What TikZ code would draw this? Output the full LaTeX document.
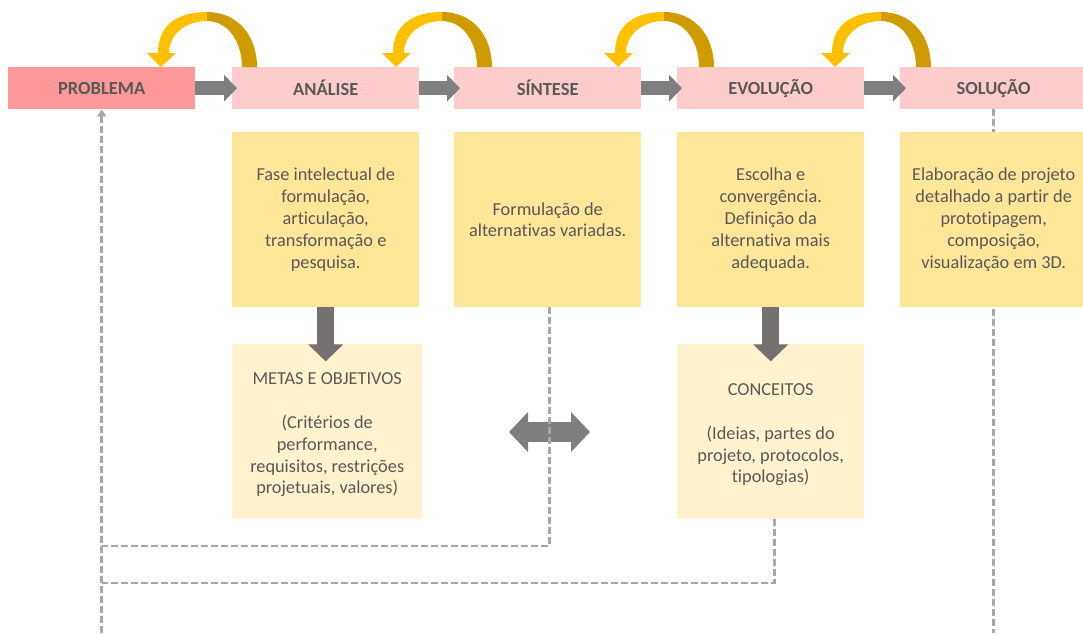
\documentclass[tikz,border=0pt]{standalone}
\usepackage{fontspec}
\setmainfont{Carlito}[Ligatures=NoCommon]
\usetikzlibrary{arrows.meta,calc,backgrounds}

\definecolor{probfill}{HTML}{FF9999}
\definecolor{headfill}{HTML}{FFCCCC}
\definecolor{phasefill}{HTML}{FFE699}
\definecolor{notefill}{HTML}{FFF2CC}
\definecolor{txt}{HTML}{595959}
\definecolor{flowgray}{HTML}{7F7F7F}
\definecolor{downgray}{HTML}{767171}
\definecolor{linkgray}{HTML}{AAA6A6}
\definecolor{loopgold}{HTML}{FFC000}
\definecolor{loopdark}{HTML}{CF9C00}

% taller first line, lowering the centred block a little
\newcommand\topgap{\rule{0pt}{18.5pt}}

\begin{document}
\begin{tikzpicture}[x=1pt,y=-1pt,
  header/.style={anchor=north west, fill=headfill, minimum width=187pt,
    minimum height=42pt, inner sep=0pt, text=txt,
    font=\fontsize{18.5}{22}\selectfont\bfseries},
  phase/.style={anchor=north west, fill=phasefill, minimum width=187pt,
    minimum height=175pt, inner sep=0pt, text=txt, align=center,
    font=\fontsize{18.3}{21.8}\selectfont},
  note/.style={phase, fill=notefill},
  flow/.style={draw=flowgray, line width=14pt,
    -{Triangle[length=13pt,width=26pt]}},
  descend/.style={draw=downgray, line width=17pt,
    -{Triangle[length=17pt,width=34pt]}},
  swap/.style={draw=flowgray, line width=20pt,
    {Triangle[length=19pt,width=39pt]}-{Triangle[length=19pt,width=39pt]}},
  link/.style={draw=linkgray, line width=2.5pt, dash pattern=on 7pt off 3pt},
  backarrow/.pic={
    \fill[loopgold] (-14,53) -- (0,67) -- (15,53) -- (8,53)
      .. controls (8,35) and (24,21) .. (46,21) -- (46,12)
      .. controls (14,12) and (-3,27) .. (-3,53) -- cycle;
    \fill[loopdark] (46,12) .. controls (77,12) and (96,36) .. (96,67)
      -- (81,67) .. controls (81,42) and (67,21) .. (46,21) -- cycle;
  }
]
\useasboundingbox (0,0) rectangle (1083,633);

% phase headers
\node[header, fill=probfill] (prob) at (8,67) {PROBLEMA};
\node[header] (ana) at (232,67) {ANÁLISE};
\node[header] (sin) at (454,67) {SÍNTESE};
\node[header] (evo) at (677,67) {EVOLUÇÃO};
\node[header] (sol) at (900,67) {SOLUÇÃO};

% phase descriptions
\node[phase] (anaP) at (232,132) {Fase intelectual de\\formulação,\\articulação,\\transformação e\\pesquisa.};
\node[phase] (sinP) at (454,132) {Formulação de\\alternativas variadas.};
\node[phase] (evoP) at (677,132) {Escolha e\\convergência.\\Definição da\\alternativa mais\\adequada.};
\node[phase] (solP) at (900,132) {Elaboração de projeto\\detalhado a partir de\\prototipagem,\\composição,\\visualização em 3D.};

% outcomes
\node[note, minimum width=190pt] (metas) at (232,344) {\topgap METAS E OBJETIVOS\\[21.8pt](Critérios de\\performance,\\requisitos, restrições\\projetuais, valores)};
\node[note] (conc) at (677,344) {\topgap CONCEITOS\\[21.8pt](Ideias, partes do\\projeto, protocolos,\\tipologias)};

% reference points for the feedback lines
\coordinate (floor) at (0,633);
\coordinate (railA) at (0,546);
\coordinate (railB) at (0,583);
\coordinate (swapL) at (509,432);
\coordinate (swapR) at (590,432);

% line from the solution running behind its description
\begin{scope}[on background layer]
  \draw[link] (sol.south) -- (sol.south |- floor);
\end{scope}

% forward flow
\draw[flow] (prob.east) -- ($(ana.west)+(5,0)$);
\draw[flow] (ana.east) -- ($(sin.west)+(6,0)$);
\draw[flow] (sin.east) -- ($(evo.west)+(5,0)$);
\draw[flow] (evo.east) -- ($(sol.west)+(6,0)$);

% iteration loops
\pic at (161,0) {backarrow};
\pic at (396,0) {backarrow};
\pic at (618,0) {backarrow};
\pic at (835,0) {backarrow};

% results of each phase
\draw[descend] (anaP.south) -- ++(0,54);
\draw[descend] (evoP.south) -- ++(0,54);
\draw[swap] (swapL) -- (swapR);

% feedback to the problem
\draw[link, -{Triangle[length=7pt,width=9pt]}] (prob.south |- floor) -- (prob.south);
\draw[link] ([xshift=2pt]sinP.south) |- (prob.south |- railA);
\draw[link] ([xshift=4pt]conc.south) |- (prob.south |- railB);
\end{tikzpicture}
\end{document}
